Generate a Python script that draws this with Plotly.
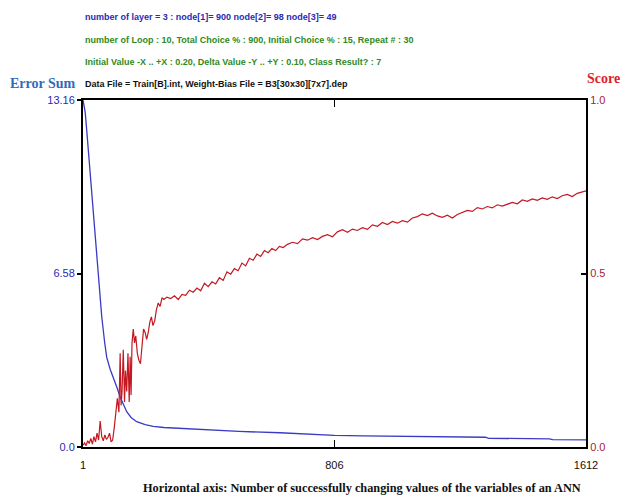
import plotly.graph_objects as go

# ---------------- data ----------------
x_ticks = [1, 806, 1612]
x_tick_text = ["1", "806", "1612"]
err_ticks = [0, 6.58, 13.16]
err_tick_text = ["0.0", "6.58", "13.16"]
score_ticks = [0, 0.5, 1.0]
score_tick_text = ["0.0", "0.5", "1.0"]

err_x = [1, 8, 13, 20, 29, 39, 50, 61, 70, 77, 88, 98, 110, 120, 130, 141, 155, 173,
         200, 226, 260, 301, 350, 408, 500, 632, 720, 806, 900, 1000, 1079, 1180,
         1290, 1300, 1400, 1495, 1505, 1612]
err_sum = [13.16, 12.7, 12.0, 11.0, 9.75, 8.2, 6.45, 4.95, 4.0, 3.4, 2.95, 2.65, 2.25,
           1.9, 1.6, 1.34, 1.12, 0.96, 0.85, 0.78, 0.74, 0.71, 0.68, 0.64, 0.59, 0.54,
           0.48, 0.44, 0.42, 0.40, 0.39, 0.38, 0.37, 0.33, 0.32, 0.31, 0.28, 0.27]

score_x = [1, 6, 11, 16, 21, 26, 31, 36, 41, 46, 51, 56, 61, 66, 71, 76, 81, 86, 91, 96, 101, 106,
           111, 116, 120, 123, 126, 130, 134, 137, 141, 145, 149, 152, 155, 158, 162, 166, 170,
           175, 180, 185, 190, 195, 200, 205, 210, 215, 220, 225, 231, 236, 242, 248, 254, 260,
           270, 282, 294, 306, 318, 330, 342, 354, 366, 378, 390, 402, 414, 426, 438, 450, 462,
           474, 486, 498, 510, 522, 534, 546, 558, 570, 582, 594, 606, 618, 630, 642,
           656, 672, 688, 704, 720, 736, 752, 768, 784, 800, 816, 832, 848, 864, 880, 896, 912,
           928, 944, 960, 976, 992, 1008, 1024, 1040, 1056, 1072, 1088, 1104, 1120, 1136, 1152,
           1168, 1184, 1200, 1216, 1232, 1248, 1264, 1280, 1296, 1312, 1328, 1344, 1360, 1376,
           1392, 1408, 1424, 1440, 1456, 1472, 1488, 1504, 1520, 1536, 1552, 1568, 1584, 1600, 1612]
score = [0.005, 0.012, 0.004, 0.018, 0.010, 0.025, 0.008, 0.030, 0.015, 0.040, 0.020, 0.075,
         0.030, 0.018, 0.035, 0.022, 0.028, 0.040, 0.015, 0.020, 0.055, 0.095,
         0.14, 0.10, 0.27, 0.12, 0.16, 0.28, 0.13, 0.22, 0.16, 0.27, 0.13, 0.26, 0.15, 0.30,
         0.34, 0.30, 0.32, 0.27, 0.25, 0.24, 0.29, 0.34, 0.33, 0.31, 0.33, 0.36, 0.375, 0.35,
         0.365, 0.395, 0.415, 0.405, 0.43, 0.425,
         0.432, 0.428, 0.436, 0.425, 0.440, 0.437, 0.452, 0.446, 0.458, 0.450, 0.472, 0.462,
         0.476, 0.470, 0.488, 0.480, 0.505, 0.498, 0.514, 0.508, 0.530, 0.522, 0.544, 0.538,
         0.556, 0.549, 0.566, 0.560, 0.572, 0.566, 0.578, 0.575,
         0.584, 0.590, 0.586, 0.600, 0.596, 0.603, 0.598, 0.607, 0.612, 0.606, 0.620, 0.626,
         0.619, 0.628, 0.624, 0.632, 0.627, 0.640, 0.636, 0.647, 0.641, 0.650, 0.645, 0.652,
         0.648, 0.660, 0.664, 0.672, 0.667, 0.674, 0.666, 0.662, 0.668, 0.660, 0.670, 0.676,
         0.682, 0.679, 0.690, 0.686, 0.693, 0.689, 0.698, 0.694, 0.700, 0.705, 0.701, 0.712,
         0.708, 0.715, 0.711, 0.718, 0.714, 0.721, 0.716, 0.724, 0.728, 0.722, 0.731, 0.734, 0.738]

header_lines = [
    "number of layer = 3 : node[1]= 900 node[2]= 98 node[3]= 49",
    "number of Loop : 10, Total Choice % : 900, Initial Choice % : 15, Repeat # : 30",
    "Initial Value -X .. +X : 0.20, Delta Value -Y .. +Y : 0.10, Class Result? : 7",
    "Data File = Train[B].int, Weight-Bias File = B3[30x30][7x7].dep",
]
header_colors = ["#2a2ab4", "#2f8a22", "#2f8a22", "#111111"]

NARROW = "Liberation Sans Narrow, Arial Narrow, Liberation Sans, sans-serif"
SERIF = "Liberation Serif, Times New Roman, serif"

W, H = 623, 499
L, R, T, B = 83, 586, 100, 447


def px(xp):
    return (xp - L) / (R - L)


def py(yp):
    return (B - yp) / (B - T)


fig = go.Figure()
fig.add_trace(go.Scatter(x=err_x, y=err_sum, mode="lines", yaxis="y",
                         line=dict(color="#3a3ac4", width=1.3), showlegend=False))
fig.add_trace(go.Scatter(x=score_x, y=score, mode="lines", yaxis="y2",
                         line=dict(color="#c41822", width=1.2), showlegend=False))

fig.update_layout(
    width=W, height=H,
    margin=dict(l=L, r=W - R, t=T, b=H - B, autoexpand=False),
    paper_bgcolor="white", plot_bgcolor="white",
    xaxis=dict(range=[1, 1612], tickvals=x_ticks, ticktext=x_tick_text,
               showgrid=False, zeroline=False, showline=True, linecolor="black", linewidth=2,
               mirror="ticks", ticks="inside", ticklen=7, tickcolor="black", tickwidth=1,
               ticklabelstandoff=7,
               tickfont=dict(family=NARROW, size=11, color="#111111")),
    yaxis=dict(range=[0, 13.16], tickvals=err_ticks, ticktext=err_tick_text,
               showgrid=False, zeroline=False, showline=True, linecolor="black", linewidth=2,
               ticks="outside", ticklen=4, tickcolor="black", tickwidth=2,
               tickfont=dict(family=NARROW, size=11, color="#2a2ab4")),
    yaxis2=dict(range=[0, 1.0], tickvals=score_ticks, ticktext=score_tick_text,
                overlaying="y", side="right",
                showgrid=False, zeroline=False, showline=True, linecolor="black", linewidth=2,
                ticks="inside", ticklen=5, tickcolor="black", tickwidth=2,
                tickfont=dict(family=NARROW, size=11, color="#a8203a")),
)

ys = [17, 40, 62, 84]
for txt, col, yy in zip(header_lines, header_colors, ys):
    fig.add_annotation(text=txt, x=px(83), y=py(yy), xref="paper", yref="paper",
                       showarrow=False, xanchor="left", yanchor="middle",
                       font=dict(family=NARROW, size=9, color=col, weight="bold"))

fig.add_annotation(text="<b>Error Sum</b>", x=px(43), y=py(83), xref="paper", yref="paper",
                   showarrow=False, xanchor="center", yanchor="middle",
                   font=dict(family=SERIF, size=14, color="#2f6cb8"))
fig.add_annotation(text="<b>Score</b>", x=px(622), y=py(78), xref="paper", yref="paper",
                   showarrow=False, xanchor="right", yanchor="middle",
                   font=dict(family=SERIF, size=14, color="#e01e2a"))
fig.add_annotation(text="<b>Horizontal axis: Number of successfully changing values of the variables of an ANN</b>",
                   x=px(362), y=py(488), xref="paper", yref="paper",
                   showarrow=False, xanchor="center", yanchor="middle",
                   font=dict(family=SERIF, size=12.3, color="#111111"))

fig.write_html("out.html",
               config={"displayModeBar": False},
               post_script="document.body.style.margin='0';document.body.style.overflow='hidden';")
